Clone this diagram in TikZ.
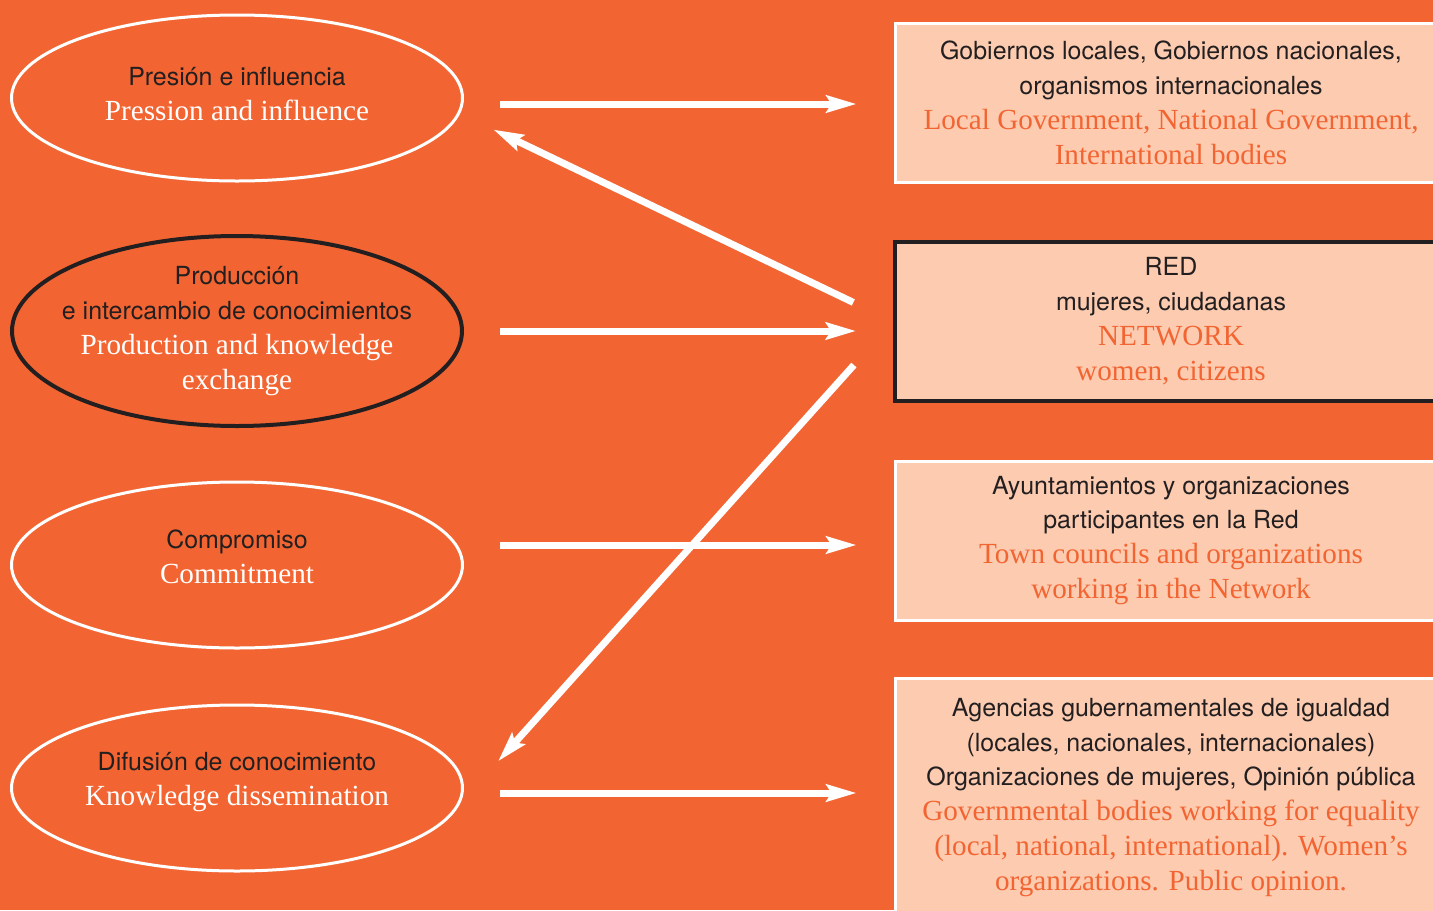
\documentclass[tikz,border=0pt]{standalone}
\usepackage{fontspec}
\setmainfont{Liberation Serif}
\setsansfont{TeX Gyre Heros}
\usetikzlibrary{arrows.meta,shapes.geometric}

\definecolor{bgorange}{HTML}{F26532}
\definecolor{boxfill}{HTML}{FCCBB0}
\definecolor{inkdark}{HTML}{231F20}

\newcommand{\es}{\fontsize{14.2}{19.9}\selectfont\sffamily\color{inkdark}}
\newcommand{\en}{\fontsize{16.6}{19.9}\selectfont\rmfamily}

\begin{document}
\begin{tikzpicture}[x=0.2mm,y=-0.2mm,>={Stealth[length=6mm,width=3.4mm,inset=1mm]}]
  \tikzstyle{bubble}=[ellipse,draw=white,line width=0.6mm,minimum width=9.02cm,
                      minimum height=3.32cm,inner sep=0pt]
  \tikzstyle{panel}=[rectangle,draw=white,line width=0.6mm,fill=boxfill,
                     minimum width=11.04cm,minimum height=3.18cm,align=center,inner sep=0pt,
                     font=\fontsize{14}{19.9}\selectfont]
  \tikzstyle{lbl}=[align=center,text=white,inner sep=0pt,font=\fontsize{14}{19.9}\selectfont]
  \tikzstyle{flow}=[draw=white,line width=1.4mm,->,shorten <=7.2mm,shorten >=7.4mm]

  \fill[bgorange] (0,0) rectangle (1433,910);
  \clip (0,0) rectangle (1433,910);

  % left: ellipses
  \node[bubble] (pres) at (237,98) {};
  \node[bubble,draw=inkdark,line width=0.8mm,minimum width=9cm,minimum height=3.8cm] (prod) at (237,331) {};
  \node[bubble] (comp) at (237,565) {};
  \node[bubble] (difu) at (237,788) {};

  \node[lbl] (prestxt) at (237,94) {{\es Presión e influencia}\\{\en Pression and influence}};
  \node[lbl] (prodtxt) at (237,331) {{\es Producción}\\{\es e intercambio de conocimientos}\\
                                     {\en Production and knowledge}\\{\en exchange}};
  \node[lbl] (comptxt) at (237,557) {{\es Compromiso}\\{\en Commitment}};
  \node[lbl] (difutxt) at (237,782) {{\es Difusión de conocimiento}\\{\en Knowledge dissemination}};

  % right: boxes
  \node[panel] (gob) at (1171,102.5) {{\es Gobiernos locales, Gobiernos nacionales,}\\
      {\es organismos internacionales}\\
      {\en\color{bgorange} Local Government, National Government,}\\
      {\en\color{bgorange} International bodies}};
  \node[panel,draw=inkdark,line width=0.8mm] (red) at (1171,321.5) {{\es RED}\\
      {\es mujeres, ciudadanas}\\
      {\en\color{bgorange} NETWORK}\\
      {\en\color{bgorange} women, citizens}};
  \node[panel] (ayto) at (1171,540.5) {{\es Ayuntamientos y organizaciones}\\
      {\es participantes en la Red}\\
      {\en\color{bgorange} Town councils and organizations}\\
      {\en\color{bgorange} working in the Network}};
  \node[panel,minimum height=4.78cm] (agen) at (1171,797.5) {{\es Agencias gubernamentales de igualdad}\\
      {\es (locales, nacionales, internacionales)}\\
      {\es Organizaciones de mujeres, Opinión pública}\\
      {\en\color{bgorange} Governmental bodies working for equality}\\
      {\en\color{bgorange} (local, national, international). Women’s}\\
      {\en\color{bgorange} organizations. Public opinion.}};

  \path ([yshift=-0.3mm]pres.east |- gob.west) edge [flow] ([yshift=-0.3mm]gob.west)
        (prod.east) edge [flow] (prod.east -| red.west)
        ([yshift=-0.9mm]comp.east |- ayto.west) edge [flow] ([yshift=-0.9mm]ayto.west)
        ([yshift=0.9mm]difu.east |- agen.west) edge [flow] ([yshift=0.9mm]agen.west)
        (red.west) edge [flow,shorten <=8.8mm,shorten >=7.4mm] (pres.-4.3)
        (red.west) edge [flow,shorten <=11.7mm,shorten >=11.4mm] (difu.-4.5);

\end{tikzpicture}
\end{document}
